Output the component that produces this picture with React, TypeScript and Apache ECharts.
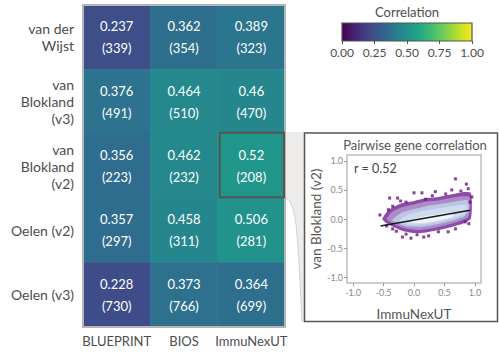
import React, { useEffect, useRef } from "react";
import * as echarts from "echarts";

const cohorts = ["BLUEPRINT", "BIOS", "ImmuNexUT"];
const datasets = ["van der\nWijst", "van\nBlokland\n(v3)", "van\nBlokland\n(v2)", "Oelen (v2)", "Oelen (v3)"];
const corrValues = [
  [0.237, 0.362, 0.389],
  [0.376, 0.464, 0.46],
  [0.356, 0.462, 0.52],
  [0.357, 0.458, 0.506],
  [0.228, 0.373, 0.364],
];
const geneCounts = [
  [339, 354, 323],
  [491, 510, 470],
  [223, 232, 208],
  [297, 311, 281],
  [730, 766, 699],
];
const legendTicks = [0, 0.25, 0.5, 0.75, 1];
const insetTicks = [-1, -0.5, 0, 0.5, 1];
const highlightCell = [2, 2];
const rValue = 0.52;

// density cloud layers (outer -> inner)
const cloudLayers: number[][][] = [
  [[-0.52, 0.0], [-0.45, 0.12], [-0.35, 0.2], [-0.2, 0.27], [0, 0.31], [0.2, 0.36], [0.4, 0.38], [0.6, 0.42], [0.8, 0.46], [0.93, 0.45], [0.95, 0.2], [0.93, 0.0], [0.8, -0.08], [0.6, -0.14], [0.4, -0.19], [0.2, -0.23], [0, -0.24], [-0.2, -0.2], [-0.35, -0.13], [-0.48, -0.05]],
  [[-0.45, 0.0], [-0.36, 0.12], [-0.2, 0.2], [0, 0.25], [0.2, 0.3], [0.4, 0.32], [0.6, 0.36], [0.8, 0.39], [0.91, 0.38], [0.92, 0.15], [0.88, 0.02], [0.72, -0.05], [0.5, -0.11], [0.3, -0.16], [0.1, -0.19], [-0.1, -0.17], [-0.28, -0.11], [-0.4, -0.05]],
  [[-0.36, -0.02], [-0.22, 0.1], [0, 0.17], [0.2, 0.22], [0.45, 0.26], [0.68, 0.3], [0.88, 0.32], [0.9, 0.14], [0.82, 0.04], [0.6, -0.04], [0.35, -0.1], [0.1, -0.14], [-0.1, -0.13], [-0.26, -0.08]],
  [[-0.25, -0.03], [-0.1, 0.07], [0.15, 0.14], [0.45, 0.19], [0.7, 0.23], [0.86, 0.24], [0.85, 0.1], [0.65, 0.02], [0.4, -0.05], [0.15, -0.09], [-0.08, -0.1], [-0.2, -0.07]],
  [[-0.08, -0.02], [0.15, 0.04], [0.4, 0.08], [0.62, 0.11], [0.64, 0.04], [0.4, -0.02], [0.18, -0.06], [0.0, -0.07]],
];
const outliers = [
  [-0.56, 0.07], [-0.4, 0.36], [-0.27, 0.36], [0.0, 0.45], [0.13, 0.45], [0.35, 0.47], [0.68, 0.69],
  [0.86, 0.6], [0.89, 0.52], [-0.35, 0.22], [0.92, 0.29], [0.84, -0.05], [0.68, -0.17], [0.4, -0.22],
  [0.16, -0.31], [-0.05, -0.33], [-0.19, -0.31], [-0.13, -0.26], [-0.29, -0.21], [-0.45, -0.12],
  [0.56, -0.22], [0.24, -0.29], [-0.13, 0.29], [0.19, 0.34], [0.52, 0.43], [0.77, 0.48],
  [-0.42, 0.16], [-0.22, 0.31], [0.3, 0.4], [0.62, 0.5], [0.95, 0.38], [0.9, -0.08], [0.05, -0.27], [-0.35, -0.17],
];
const fitLine = [[-0.55, -0.12], [0.92, 0.15]];

const viridis = ["#440154", "#482475", "#414487", "#355f8d", "#2a788e", "#21918c", "#22a884", "#44bf70", "#7ad151", "#bddf26", "#fde725"];
const layerColors = ["#8e4ca7", "#a98cc8", "#bcc5e3", "#cfdcf0", "#eef4fb"];
const FONT = "Lato";

export default function App() {
  const ref = useRef<HTMLDivElement>(null);
  useEffect(() => {
    if (!ref.current) return;
    const chart = echarts.init(ref.current, undefined, { renderer: "svg" });
    const heatData: any[] = [];
    corrValues.forEach((row, r) => row.forEach((v, c) => heatData.push([c, r, v, geneCounts[r][c]])));
    const gradient = new echarts.graphic.LinearGradient(0, 0, 1, 0, viridis.map((c, i) => ({ offset: i / (viridis.length - 1), color: c })));

    const option: any = {
      animation: false,
      textStyle: { fontFamily: FONT },
      grid: [
        { left: 83, top: 5, width: 202, height: 322 },
        { left: 342, top: 23, width: 130, height: 18, show: true, backgroundColor: gradient, borderColor: "#555", borderWidth: 1.2 },
        { left: 347, top: 155, width: 134, height: 128, show: true, borderColor: "#bdbdbd", borderWidth: 1.5, backgroundColor: "#fff" },
      ],
      xAxis: [
        {
          type: "category", data: cohorts, gridIndex: 0, position: "bottom",
          axisLine: { show: false },
          axisTick: { alignWithLabel: true, length: 5, lineStyle: { color: "#777" } },
          axisLabel: { color: "#4d4d4d", fontSize: 13, margin: 7, interval: 0, fontFamily: FONT },
        },
        {
          type: "value", gridIndex: 1, min: 0, max: 1, interval: 0.25,
          axisLine: { show: false, onZero: false }, splitLine: { show: false },
          axisTick: { length: 3, lineStyle: { color: "#555" } },
          axisLabel: { color: "#4d4d4d", fontSize: 12, margin: 5, formatter: (v: number) => v.toFixed(2), fontFamily: FONT },
        },
        {
          type: "value", gridIndex: 2, min: -1.1, max: 1.1,
          axisLine: { show: false, onZero: false }, splitLine: { show: false },
          axisTick: { length: 3, lineStyle: { color: "#999" }, customValues: insetTicks },
          axisLabel: { color: "#888", fontSize: 9, margin: 5, formatter: (v: number) => v.toFixed(1), customValues: insetTicks, fontFamily: FONT },
          name: "ImmuNexUT", nameLocation: "middle", nameGap: 24,
          nameTextStyle: { color: "#555", fontSize: 13.5, fontFamily: FONT },
        },
      ],
      yAxis: [
        {
          type: "category", data: datasets, gridIndex: 0, inverse: true,
          axisLine: { show: false },
          axisTick: { alignWithLabel: true, length: 6, lineStyle: { color: "#777" } },
          axisLabel: { color: "#4d4d4d", fontSize: 14, margin: 9, lineHeight: 17, align: "right", interval: 0, fontFamily: FONT },
        },
        { type: "value", gridIndex: 1, show: false, min: 0, max: 1 },
        {
          type: "value", gridIndex: 2, min: -1.1, max: 1.1,
          axisLine: { show: false, onZero: false }, splitLine: { show: false },
          axisTick: { length: 3, lineStyle: { color: "#999" }, customValues: insetTicks },
          axisLabel: { color: "#888", fontSize: 9, margin: 4, formatter: (v: number) => v.toFixed(1), customValues: insetTicks, fontFamily: FONT },
          name: "van Blokland (v2)", nameLocation: "middle", nameGap: 20,
          nameTextStyle: { color: "#555", fontSize: 13.5, fontFamily: FONT },
        },
      ],
      visualMap: {
        show: false, min: 0, max: 1, seriesIndex: 0, dimension: 2,
        inRange: { color: viridis },
      },
      series: [
        {
          type: "heatmap", xAxisIndex: 0, yAxisIndex: 0, data: heatData,
          label: {
            show: true, color: "#fff", fontSize: 13, lineHeight: 22, fontFamily: FONT,
            formatter: (p: any) => `${p.data[2]}\n(${p.data[3]})`,
          },
          itemStyle: { borderWidth: 0 },
        },
        {
          type: "custom", xAxisIndex: 2, yAxisIndex: 2, clip: true,
          data: cloudLayers.map((_, i) => [i]),
          encode: { x: 0 },
          renderItem: (params: any, api: any) => {
            const i = params.dataIndex;
            return {
              type: "polygon",
              shape: { points: cloudLayers[i].map((p) => api.coord(p)), smooth: 0.2 },
              style: { fill: layerColors[i] },
            };
          },
        },
        {
          type: "scatter", xAxisIndex: 2, yAxisIndex: 2, data: outliers,
          symbol: "rect", symbolSize: 3, itemStyle: { color: "#6c1283" },
        },
        {
          type: "line", xAxisIndex: 2, yAxisIndex: 2, data: fitLine, symbol: "none",
          lineStyle: { color: "#1a1a1a", width: 1.6 },
        },
      ],
    };
    chart.setOption(option);

    const cellW = 202 / cohorts.length;
    const cellH = 322 / datasets.length;
    const hx = 83 + cellW * highlightCell[0];
    const hy = 5 + cellH * highlightCell[1];

    chart.setOption({
      graphic: [
        {
          type: "polygon", z: 1,
          shape: { points: [[285, 132], [304, 132], [304, 322], [302, 322], [301, 300], [299.5, 272], [298, 246], [296, 224], [293.5, 210], [290, 201], [285, 197.5]] },
          style: { fill: "#edeceb" },
        },
        {
          type: "polyline", z: 1,
          shape: { points: [[302, 322], [301, 300], [299.5, 272], [298, 246], [296, 224], [293.5, 210], [290, 201], [285, 197.5]] },
          style: { stroke: "#d2d2d2", lineWidth: 1, fill: "none" },
        },
        {
          type: "rect", z: 100, shape: { x: 83, y: 5, width: 202, height: 322 },
          style: { fill: "none", stroke: "#b5b5b5", lineWidth: 2 },
        },
        {
          type: "rect", z: 101, shape: { x: hx + 2, y: hy - 1, width: cellW - 3, height: cellH },
          style: { fill: "none", stroke: "#555", lineWidth: 2 },
        },
        {
          type: "rect", z: 1, shape: { x: 304.5, y: 133, width: 193, height: 188.5 },
          style: { fill: "none", stroke: "#555", lineWidth: 1.5 },
        },
        {
          type: "text", z: 100, x: 407, y: 12,
          style: { text: "Correlation", fill: "#4d4d4d", fontSize: 13, fontFamily: FONT, align: "center", verticalAlign: "middle" },
        },
        {
          type: "text", z: 100, x: 415, y: 145,
          style: { text: "Pairwise gene correlation", fill: "#555", fontSize: 13, fontFamily: FONT, align: "center", verticalAlign: "middle" },
        },
        {
          type: "text", z: 100, x: 354, y: 168,
          style: { text: `r = ${rValue}`, fill: "#444", fontSize: 12.5, fontFamily: FONT, align: "left", verticalAlign: "middle" },
        },
      ],
    });
    return () => chart.dispose();
  }, []);
  return <div ref={ref} style={{ position: "absolute", left: 0, top: 0, width: 499, height: 354 }} />;
}
